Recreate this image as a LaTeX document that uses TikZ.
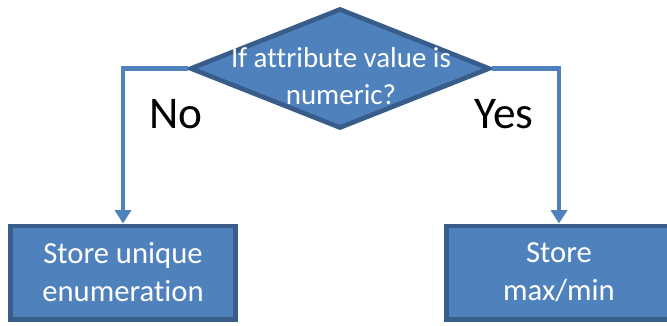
\documentclass[tikz,border=0pt]{standalone}
\usepackage{fontspec}
\setmainfont{Carlito}[Ligatures=CommonOff]
\usepackage{tikz}
\usetikzlibrary{shapes.geometric,arrows.meta}
\definecolor{boxblue}{HTML}{4F81BD}
\definecolor{edgeblue}{HTML}{385D8A}

\begin{document}
\begin{tikzpicture}[x=0.75pt,y=0.75pt,
decision/.style={diamond,draw=edgeblue,fill=boxblue,line width=3.5pt,inner sep=0pt,minimum width=225pt,minimum height=90pt},
block/.style={rectangle,draw=edgeblue,fill=boxblue,line width=3.5pt,minimum width=168.5pt,minimum height=70pt,text=white,align=center,font=\fontsize{23}{28.5}\selectfont},
inner/.style={text=white,align=center,font=\fontsize{21.7}{27.75}\selectfont},
link/.style={draw=boxblue,line width=3.5pt,-{Triangle[width=12pt,length=10pt]}},
answer/.style={anchor=base,font=\fontsize{34}{40}\selectfont}]
\useasboundingbox (0,0) rectangle (667,325);
\node[decision] (test) at (340,256.5) {};
\node[inner] (testtext) at (341,249) {If attribute value is\\numeric?};
\node[block] (unique) at (123,52.5) {Store unique\\enumeration};
\node[block] (range) at (559,52.5) {Store\\max/min};
\draw[link] (test.west) -| (unique.north);
\draw[link] (test.east) -| (range.north);
\node[answer] (no) at (176,196) {No};
\node[answer] (yes) at (504,196) {Yes};
\end{tikzpicture}
\end{document}
